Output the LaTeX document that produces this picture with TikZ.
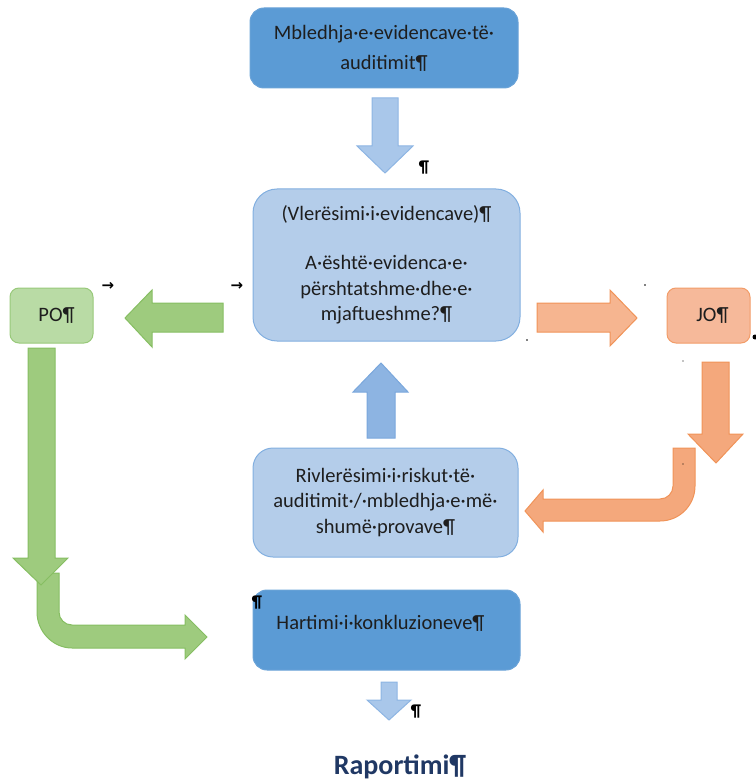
\documentclass[tikz,border=0pt]{standalone}
\usepackage{fontspec}
\setmainfont{Carlito}
\newfontfamily\symfont{DejaVu Sans}
\definecolor{dkblue}{HTML}{5B9BD5}
\definecolor{dkblueline}{HTML}{6AA3D8}
\definecolor{ltblue}{HTML}{B4CDEA}
\definecolor{ltblueline}{HTML}{82AFE0}
\definecolor{arrblue}{HTML}{A9C7EA}
\definecolor{arrblueline}{HTML}{8DB5E3}
\definecolor{midblue}{HTML}{8DB4E2}
\definecolor{midblueline}{HTML}{7AA7DC}
\definecolor{grfill}{HTML}{9ECB7E}
\definecolor{grline}{HTML}{86BE62}
\definecolor{grbox}{HTML}{B9DBA5}
\definecolor{grboxline}{HTML}{98C97A}
\definecolor{orfill}{HTML}{F4A87C}
\definecolor{orfilllt}{HTML}{F6B590}
\definecolor{orline}{HTML}{F09358}
\definecolor{orbox}{HTML}{F6B99A}
\definecolor{orboxline}{HTML}{F29C68}
\definecolor{navy}{HTML}{203864}
\definecolor{ink}{HTML}{1E1E1E}
\tikzset{
  boxbase/.style={draw, line width=1pt, inner sep=0pt, align=center, text=ink,
    font=\fontsize{20.5}{25.5}\selectfont},
  darkbox/.style={boxbase, fill=dkblue, draw=dkblueline},
  lightbox/.style={boxbase, fill=ltblue, draw=ltblueline},
  bluearrow/.style={fill=arrblue, draw=arrblueline, line width=1pt, line join=miter},
  midarrow/.style={fill=midblue, draw=midblueline, line width=1pt},
  greenarrow/.style={fill=grfill, draw=grline, line width=1pt},
  orangearrow/.style={fill=orfill, draw=orline, line width=1pt},
  orangearrowlt/.style={fill=orfilllt, draw=orline, line width=1pt},
  pmark/.style={text=black, inner sep=0pt, font=\bfseries\fontsize{17}{17}\selectfont},
  tabmark/.style={text=black, inner sep=0pt, font=\symfont\bfseries\fontsize{15}{15}\selectfont},
}
\begin{document}
\begin{tikzpicture}[x=1pt,y=-1pt]
\useasboundingbox (0,0) rectangle (755,783);

% boxes
\node[darkbox, rounded corners=14pt, minimum width=268pt, minimum height=80pt,
  font=\fontsize{20.5}{30}\selectfont] (mbl) at (384,48)
  {Mbledhja·e·evidencave·të·\\auditimit¶};
\node[lightbox, rounded corners=24pt, minimum width=267pt, minimum height=152pt] (vle) at (386.5,265)
  {(Vlerësimi·i·evidencave)¶\\[24pt]A·është·evidenca·e·\\përshtatshme·dhe·e·\\mjaftueshme?¶};
\node[boxbase, fill=grbox, draw=grboxline, rounded corners=9pt, minimum width=83pt, minimum height=55pt] (po) at (51.5,315.5)
  {\hspace*{10pt}PO¶};
\node[boxbase, fill=orbox, draw=orboxline, rounded corners=9pt, minimum width=83pt, minimum height=55pt] (jo) at (708.5,315.5)
  {\hspace*{8pt}JO¶};
\node[lightbox, rounded corners=20pt, minimum width=265pt, minimum height=109pt] (riv) at (385.5,502.5)
  {Rivlerësimi·i·riskut·të·\\auditimit·/·mbledhja·e·më·\\shumë·provave¶};
\node[darkbox, rounded corners=14pt, minimum width=267pt, minimum height=80pt] (hart) at (386.5,630) {};
\node[text=ink, inner sep=0pt, font=\fontsize{20.5}{25}\selectfont] (hartt) at ([yshift=7pt,xshift=-6pt]hart.center)
  {Hartimi·i·konkluzioneve¶};
\node[text=navy, inner sep=0pt, font=\bfseries\fontsize{28}{28}\selectfont] (rap) at (400,767) {Raportimi¶};

% block arrows
\draw[bluearrow] (372,98) -- (398,98) -- (398,146) -- (413,146) -- (385,173) -- (357,146) -- (372,146) -- cycle;
\draw[greenarrow] (223,303) -- (152,303) -- (152,290) -- (125,318) -- (152,347) -- (152,332) -- (223,332) -- cycle;
\draw[orangearrowlt] (537,303) -- (610,303) -- (610,290) -- (637,318) -- (610,346) -- (610,332) -- (537,332) -- cycle;
\draw[midarrow] (367,438) -- (367,392) -- (353,392) -- (381,363) -- (408,392) -- (395,392) -- (395,438) -- cycle;
\draw[orangearrow] (702,362) -- (729,362) -- (729,434) -- (743,434) -- (716,463) -- (688,434) -- (702,434) -- cycle;
% orange bent arrow
\draw[orangearrow] (673,448) -- (695,448) -- (695,486)
  .. controls (695,505.3) and (679.3,521) .. (660,521)
  -- (543,521) -- (543,532) -- (525,511) -- (543,490) -- (543,499) -- (660,499)
  .. controls (667.2,499) and (673,493.2) .. (673,486) -- cycle;
% green bent arrow
\draw[greenarrow] (37,573) -- (59,573) -- (59,612)
  .. controls (59,619.2) and (64.8,625) .. (72,625)
  -- (185,625) -- (185,615) -- (207,637) -- (185,659) -- (185,648) -- (72,648)
  .. controls (52.7,648) and (37,631.3) .. (37,612) -- cycle;
% green down arrow
\draw[greenarrow] (28,348) -- (55,348) -- (55,558) -- (68,558) -- (41,585) -- (13,558) -- (28,558) -- cycle;
% small bottom arrow
\draw[bluearrow] (381,682) -- (397,682) -- (397,700) -- (411,700) -- (389,720) -- (367,700) -- (381,700) -- cycle;

% formatting marks
\node[pmark] (p1) at (424,168) {¶};
\node[pmark] (p2) at (257,603) {¶};
\node[pmark] (p3) at (416,712) {¶};
\node[tabmark] (t1) at (108,286) {→};
\node[tabmark] (t2) at (237,286) {→};
\fill (645,285) circle (0.9pt);
\fill (527,340) circle (0.9pt);
\fill (683,361) circle (0.7pt);
\fill (683,464) circle (0.7pt);
\fill (755,337) circle (2.5pt);
\end{tikzpicture}
\end{document}
